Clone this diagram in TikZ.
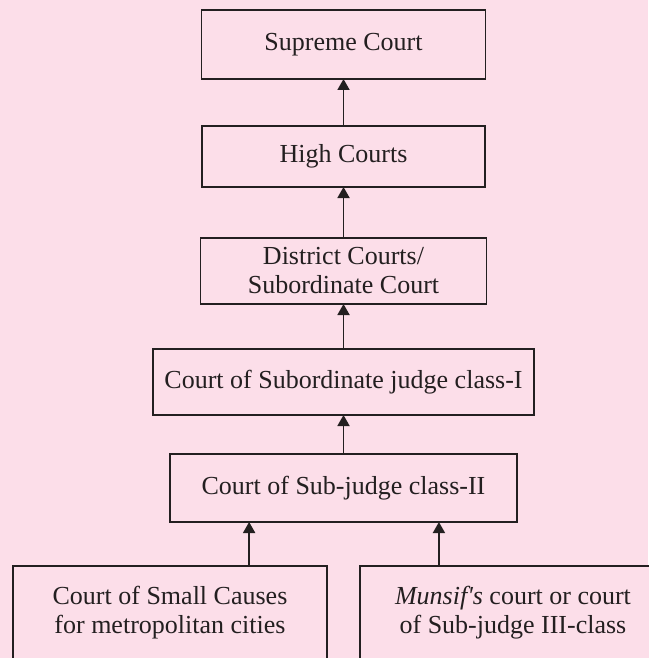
\documentclass[tikz,border=0pt]{standalone}
\usepackage{fontspec}
\setmainfont{Liberation Serif}
\usetikzlibrary{arrows.meta, positioning, calc}
\definecolor{bgpink}{RGB}{252,222,233}
\definecolor{inkdark}{RGB}{35,31,32}

\begin{document}
\begin{tikzpicture}[
    x=1pt, y=-1pt,
    court/.style={rectangle, draw=inkdark, line width=1.8pt, fill=bgpink,
                  align=center, text=inkdark, inner sep=0pt, outer sep=0pt,
                  font=\fontsize{26}{29}\selectfont},
    link/.style={-{Triangle[width=12pt, length=11pt]}, draw=inkdark, line width=1.8pt}
]

% Background
\fill[bgpink] (0,0) rectangle (648,658);
\useasboundingbox (0,0) rectangle (648,658);

% Define courts
\node[court, minimum width=284pt, minimum height=69pt] (supreme) at (343.5,44.5) {Supreme Court};
\node[court, minimum width=283pt, minimum height=61pt, below=47pt of supreme] (high) {High Courts};
\node[court, minimum width=286pt, minimum height=66pt, below=51pt of high] (district) {District Courts/\\Subordinate Court};
\node[court, minimum width=381pt, minimum height=66pt, below=45pt of district] (subone) {Court of Subordinate judge class-I};
\node[court, minimum width=347pt, minimum height=68pt, below=39pt of subone] (subtwo) {Court of Sub-judge class-II};
\node[court, minimum width=314pt, minimum height=94pt, below=44pt of subtwo, xshift=-173.5pt] (small) {Court of Small Causes\\for metropolitan cities};
\node[court, minimum width=306pt, minimum height=94pt, below=44pt of subtwo, xshift=169.5pt] (munsif) {\textit{Munsif\textquotesingle s} court or court\\of Sub-judge III-class};

% Entry points on the lower box
\coordinate (smallin) at ($(subtwo.south west)!0.228!(subtwo.south east)$);
\coordinate (munsifin) at ($(subtwo.south west)!0.775!(subtwo.south east)$);

% Appeals
\draw[link] (high) -- (supreme);
\draw[link] (district) -- (high);
\draw[link] (subone) -- (district);
\draw[link] (subtwo) -- (subone);
\draw[link] (smallin |- small.north) -- (smallin);
\draw[link] (munsifin |- munsif.north) -- (munsifin);

\end{tikzpicture}
\end{document}
